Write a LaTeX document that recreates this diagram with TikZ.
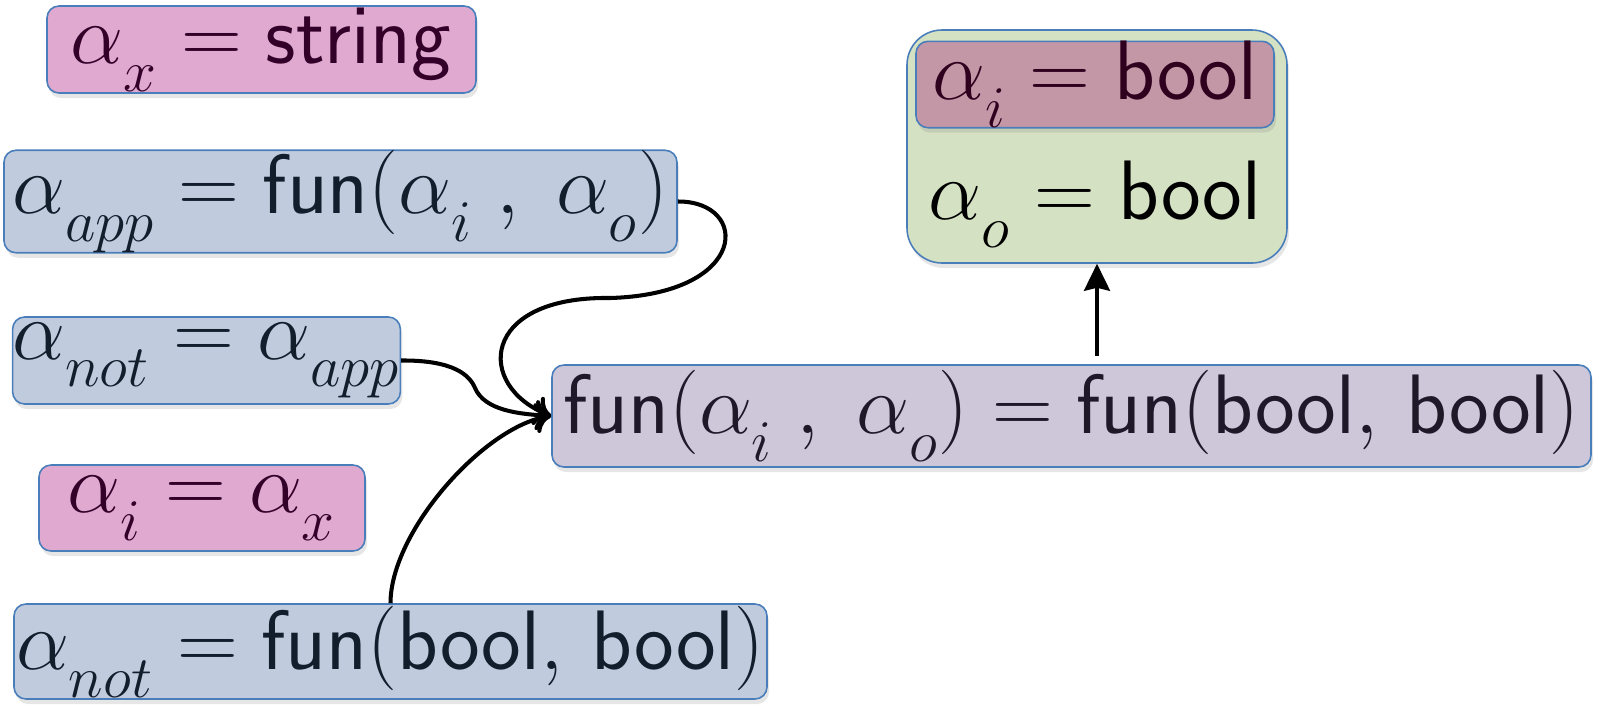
\RequirePackage{fix-cm}
\documentclass[tikz,border=0pt]{standalone}
\usetikzlibrary{arrows.meta, shadows}
\definecolor{boxborder}{HTML}{4A7EBB}
\definecolor{pinkfill}{HTML}{E0AAD0}
\definecolor{pinktext}{HTML}{33002A}
\definecolor{bluefill}{HTML}{C0CCDE}
\definecolor{bluetext}{HTML}{121E2C}
\definecolor{lilacfill}{HTML}{CEC6D9}
\definecolor{lilactext}{HTML}{1F1828}
\definecolor{greenfill}{HTML}{D4E1C3}
\definecolor{mauvefill}{HTML}{C397A6}
\definecolor{mauvetext}{HTML}{30001F}
% lowered subscript
\newcommand{\lsub}[1]{_{\lower0.18em\hbox{$\scriptstyle #1$}}}

\begin{document}
\begin{tikzpicture}
% Define styles
\tikzset{
  eqbox/.style={draw=boxborder, line width=0.45pt, rounded corners=0.12cm,
    inner sep=0pt, font=\fontsize{24}{28}\selectfont,
    drop shadow={shadow xshift=0.02cm, shadow yshift=-0.05cm, opacity=0.2}},
  pinkbox/.style={eqbox, fill=pinkfill, text=pinktext},
  bluebox/.style={eqbox, fill=bluefill, text=bluetext},
  lilacbox/.style={eqbox, fill=lilacfill, text=lilactext},
  link/.style={-{To[length=0.16cm, width=0.3cm]}, line width=1.15pt},
  uplink/.style={-{Stealth[length=0.27cm, width=0.26cm, inset=0.03cm]}, line width=1pt}
}
\useasboundingbox (0,0) rectangle (15.99,7.06);

% Constraints on the left
\node[pinkbox, minimum width=4.29cm, minimum height=0.87cm] (strx) at (2.615,6.565)
  {$\alpha\lsub{x} = \mathsf{string}$};
\node[bluebox, minimum width=6.73cm, minimum height=0.99cm] (app) at (3.405,5.045)
  {$\alpha\lsub{app} = \mathsf{fun}(\alpha\lsub{i}\;,\; \alpha\lsub{o})$};
\node[bluebox, minimum width=3.85cm, minimum height=0.87cm] (notapp) at (2.065,3.455)
  {$\alpha\lsub{not} = \alpha\lsub{app}$};
\node[pinkbox, minimum width=3.26cm, minimum height=0.86cm] (ix) at (2.02,1.98)
  {$\alpha\lsub{i} = \alpha\lsub{x}$};
\node[bluebox, minimum width=7.53cm, minimum height=0.95cm] (notfun) at (3.905,0.545)
  {$\alpha\lsub{not} = \mathsf{fun}(\mathsf{bool},\, \mathsf{bool})$};

% Unification
\node[lilacbox, minimum width=10.39cm, minimum height=1.02cm] (unify) at (10.715,2.90)
  {$\mathsf{fun}(\alpha\lsub{i}\;,\; \alpha\lsub{o}) = \mathsf{fun}(\mathsf{bool},\, \mathsf{bool})$};

% Result
\node[eqbox, fill=greenfill, rounded corners=0.35cm, minimum width=3.80cm, minimum height=2.33cm] (res) at (10.97,5.595) {};
\node[eqbox, fill=mauvefill, text=mauvetext, minimum width=3.58cm, minimum height=0.85cm] (resi) at (10.95,6.215)
  {$\alpha\lsub{i} = \mathsf{bool}$};
\node[font=\fontsize{24}{28}\selectfont, inner sep=0pt] (reso) at (10.95,5.02)
  {$\alpha\lsub{o} = \mathsf{bool}$};

% Connectors
\draw[link] (app.east) .. controls (7.5,5.05) and (7.5,4.12) .. (6.10,4.08)
  .. controls (4.8,4.1) and (4.75,3.2) .. (unify.west);
\draw[link] (notapp.east) .. controls (4.55,3.46) and (4.7,3.3) .. (4.75,3.18)
  .. controls (4.85,2.95) and (5.2,2.92) .. (unify.west);
\draw[link] (notfun.north) .. controls (3.905,1.75) and (4.85,2.8) .. (unify.west);
\draw[uplink, shorten <=0.08cm] (unify.north -| res.south) -- (res.south);
\end{tikzpicture}
\end{document}
